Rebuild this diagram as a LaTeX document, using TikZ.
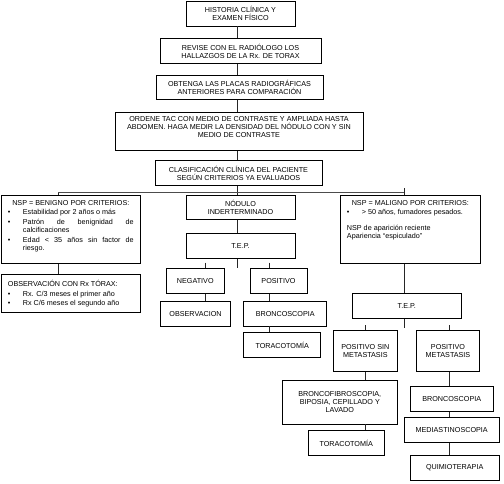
\documentclass[tikz,border=0pt]{standalone}
\usepackage{fontspec}
\setmainfont{Liberation Sans}
\newcommand{\bitem}[1]{\par\noindent\hangindent=15pt\hangafter=1\makebox[15pt][l]{\textbullet}#1\par}
\newcommand{\txtfont}{\fontsize{7.2}{8}\selectfont}
\begin{document}
\begin{tikzpicture}[x=1pt,y=-1pt,
  box/.style={draw=black, line width=0.7pt, inner sep=1pt, align=center, font=\txtfont},
  listbox/.style={draw=black, line width=0.7pt, inner sep=0pt, font=\txtfont},
  conn/.style={draw=black!85, line width=0.7pt},
  mainline/.style={draw=black!70, line width=1.1pt}]
\useasboundingbox (0,0) rectangle (504,483);
% spine coordinates
\coordinate (sx) at (237.3,0);
\coordinate (lx) at (58,0);
\coordinate (rx) at (404.3,0);
\coordinate (hy) at (0,192.7);
% top chain
\node[box, minimum width=109pt, minimum height=25pt] (h1) at (240.5,13.6) {HISTORIA CLÍNICA Y\\EXAMEN FÍSICO};
\node[box, minimum width=161pt, minimum height=24.6pt] (h2) at (240.5,51) {REVISE CON EL RADIÓLOGO LOS\\HALLAZGOS DE LA Rx. DE TORAX};
\node[box, minimum width=167pt, minimum height=24.3pt] (h3) at (239.5,87.2) {OBTENGA LAS PLACAS RADIOGRÁFICAS\\ANTERIORES PARA COMPARACIÓN};
\node[box, minimum width=248pt, minimum height=38pt] (h4) at (239,131.7) {ORDENE TAC CON MEDIO DE CONTRASTE Y AMPLIADA HASTA\\ABDOMEN. HAGA MEDIR LA DENSIDAD DEL NÓDULO CON Y SIN\\MEDIO DE CONTRASTE\\[2pt]};
\node[box, minimum width=167pt, minimum height=25pt] (h5) at (238.5,173.2) {CLASIFICACIÓN CLÍNICA DEL PACIENTE\\SEGÚN CRITERIOS YA EVALUADOS};
% left branch
\node[listbox, minimum width=139.7pt, minimum height=68.3pt] (B) at (70.8,229.2) {\parbox[c][68.3pt][t]{125.7pt}{\txtfont\hyphenpenalty=10000\exhyphenpenalty=10000\tolerance=9999\parskip=1.6pt\vspace*{3.6pt}%
{\centering NSP = BENIGNO POR CRITERIOS:\par}%
\bitem{Estabilidad por 2 años o más}%
\bitem{Patrón de benignidad de calcificaciones}%
\bitem{Edad < 35 años sin factor de riesgo.}}};
\node[listbox, minimum width=139.7pt, minimum height=38pt] (O) at (70.8,293.3) {\parbox[c][38pt][t]{125.7pt}{\txtfont\parskip=1.3pt\vspace*{5pt}%
\noindent OBSERVACIÓN CON Rx TÓRAX:\par
\bitem{Rx. C/3 meses el primer año}%
\bitem{Rx C/6 meses el segundo año}}};
% middle branch
\node[box, minimum width=109pt, minimum height=24.3pt] (N) at (240.5,207.2) {NÓDULO\\INDERTERMINADO};
\node[box, minimum width=109pt, minimum height=25pt] (T1) at (240.5,245.8) {T.E.P.};
\node[box, minimum width=57.3pt, minimum height=25pt] (NEG) at (195.3,280.8) {NEGATIVO};
\node[box, minimum width=57pt, minimum height=25pt] (POS) at (278.5,280.8) {POSITIVO};
\node[box, minimum width=70.4pt, minimum height=24.3pt] (OBS) at (195.5,313.8) {OBSERVACION};
\node[box, minimum width=83pt, minimum height=24.3pt] (BR1) at (285.2,313.8) {BRONCOSCOPIA};
\node[box, minimum width=77pt, minimum height=24.6pt] (TOR1) at (282.2,345) {TORACOTOMÍA};
% right branch
\node[listbox, minimum width=140.7pt, minimum height=68.3pt] (M) at (410.3,229.2) {\parbox[c][68.3pt][t]{126.7pt}{\txtfont\parskip=1.6pt\vspace*{3.6pt}%
{\centering NSP = MALIGNO POR CRITERIOS:\par}%
\bitem{> 50 años, fumadores pesados.}%
\vspace{6.4pt}%
\noindent NSP de aparición reciente\par\vspace{-1.6pt}%
\noindent Apariencia “espiculado”\par}};
\node[box, minimum width=108.3pt, minimum height=25pt] (T2) at (406.8,305.8) {T.E.P.};
\node[box, minimum width=64pt, minimum height=41.7pt] (PS) at (365.3,350.8) {POSITIVO SIN\\METASTASIS};
\node[box, minimum width=62.6pt, minimum height=41.7pt] (PM) at (448,350.8) {POSITIVO\\METASTASIS};
\node[box, minimum width=115pt, minimum height=44pt] (BF) at (339.8,402) {BRONCOFIBROSCOPIA,\\BIPOSIA, CEPILLADO Y\\LAVADO};
\node[box, minimum width=76.3pt, minimum height=25pt] (TOR2) at (346.2,443.2) {TORACOTOMÍA};
\node[box, minimum width=83.3pt, minimum height=25pt] (BR2) at (451.7,399.2) {BRONCOSCOPIA};
\node[box, minimum width=95.3pt, minimum height=25pt] (MED) at (451.7,429.8) {MEDIASTINOSCOPIA};
\node[box, minimum width=89.3pt, minimum height=25pt] (QUI) at (454.7,467.5) {QUIMIOTERAPIA};
% free ends
\coordinate (mL) at (58,192.7);
\coordinate (mR) at (404.3,192.7);
\coordinate (mRt) at (404.3,188.3);
\coordinate (stub1) at (237.3,268.3);
\coordinate (tk1) at (205.7,262.7);
\coordinate (tk2) at (269.3,262.7);
\coordinate (stub2) at (404.3,328.3);
\coordinate (tk3) at (365.7,325);
\coordinate (tk4) at (449,325);
% connectors top chain
\draw[conn] (h1.south -| sx) -- (h2.north -| sx);
\draw[conn] (h2.south -| sx) -- (h3.north -| sx);
\draw[conn] (h3.south -| sx) -- (h4.north -| sx);
\draw[conn] (h4.south -| sx) -- (h5.north -| sx);
\draw[conn] (h5.south -| sx) -- (N.north -| sx);
\draw[mainline] (mL) -- (mR);
\draw[conn] (mL) -- (B.north -| lx);
\draw[conn] (mRt) -- (M.north -| rx);
% left
\draw[conn] (B.south -| lx) -- (O.north -| lx);
% middle
\draw[conn] (N.south -| sx) -- (T1.north -| sx);
\draw[conn] (T1.south -| sx) -- (stub1);
\draw[conn] (tk1) -- (NEG.north -| tk1);
\draw[conn] (tk2) -- (POS.north -| tk2);
\draw[conn] (NEG.south -| tk1) -- (OBS.north -| tk1);
\draw[conn] (POS.south -| tk2) -- (BR1.north -| tk2);
\draw[conn] (BR1.south -| tk2) -- (TOR1.north -| tk2);
% right
\draw[conn] (M.south -| rx) -- (T2.north -| rx);
\draw[conn] (T2.south -| rx) -- (stub2);
\draw[conn] (tk3) -- (PS.north -| tk3);
\draw[conn] (tk4) -- (PM.north -| tk4);
\draw[conn] (PS.south -| tk3) -- (BF.north -| tk3);
\draw[conn] (BF.south -| tk3) -- (TOR2.north -| tk3);
\draw[conn] (PM.south -| tk4) -- (BR2.north -| tk4);
\draw[conn] (BR2.south -| tk4) -- (MED.north -| tk4);
\draw[conn] (MED.south -| tk4) -- (QUI.north -| tk4);
\end{tikzpicture}
\end{document}
